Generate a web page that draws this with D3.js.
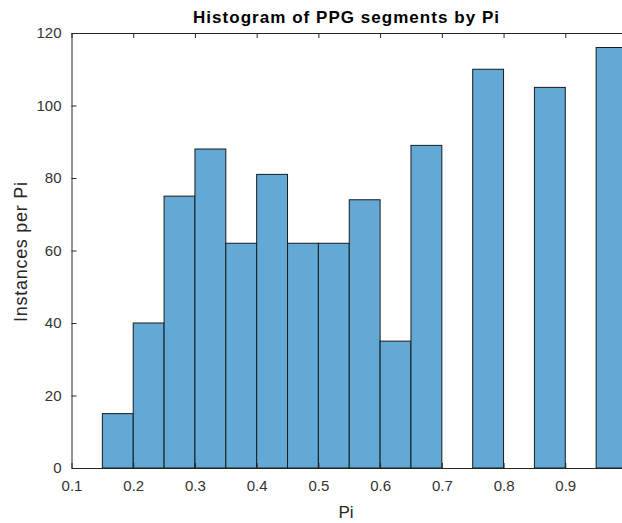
<!DOCTYPE html>
<html>
<head>
<meta charset="utf-8">
<script src="https://cdn.jsdelivr.net/npm/d3@7"></script>
<style>
  body { margin: 0; background: #fff; }
  svg { display: block; font-family: "Liberation Sans", Arial, sans-serif; }
</style>
</head>
<body>
<svg id="chart" width="622" height="523"></svg>
<script>
// bin edges (width 0.05) and counts per bin
const binStarts = [0.15, 0.2, 0.25, 0.3, 0.35, 0.4, 0.45, 0.5, 0.55, 0.6, 0.65, 0.7, 0.75, 0.8, 0.85, 0.9, 0.95];
const counts = [15, 40, 75, 88, 62, 81, 62, 62, 74, 35, 89, 0, 110, 0, 105, 0, 116];
const binWidth = 0.05;
const xTicks = [0.1, 0.2, 0.3, 0.4, 0.5, 0.6, 0.7, 0.8, 0.9, 1];
const yTicks = [0, 20, 40, 60, 80, 100, 120];

const margin = { left: 71.5, right: 627, top: 33, bottom: 468 };
const axisColor = '#262626';

const svg = d3.select('svg#chart');

const xScale = d3.scaleLinear().domain([0.1, 1]).range([margin.left, margin.right]);
const yScale = d3.scaleLinear().domain([0, 120]).range([margin.bottom, margin.top]);

const bins = binStarts.map((s, i) => ({ x0: s, x1: s + binWidth, n: counts[i] }));

// bars
svg.append('g')
  .selectAll('rect')
  .data(bins.filter(d => d.n > 0))
  .enter().append('rect')
  .attr('x', d => xScale(d.x0))
  .attr('y', d => yScale(d.n))
  .attr('width', d => xScale(d.x1) - xScale(d.x0))
  .attr('height', d => yScale(0) - yScale(d.n))
  .attr('fill', '#62a9d6')
  .attr('stroke', '#1a1a1a')
  .attr('stroke-width', 1);

// axes, ticks pointing inward like matlab
const fmt = d => d === 1 ? '1' : d3.format('.1f')(d);

svg.append('g')
  .attr('transform', 'translate(0,' + margin.bottom + ')')
  .call(d3.axisBottom(xScale).tickValues(xTicks).tickFormat(fmt).tickSizeInner(-5).tickSizeOuter(0).tickPadding(12));
svg.append('g')
  .attr('transform', 'translate(0,' + margin.top + ')')
  .call(d3.axisTop(xScale).tickValues(xTicks).tickFormat('').tickSizeInner(-5).tickSizeOuter(0));
svg.append('g')
  .attr('transform', 'translate(' + margin.left + ',0)')
  .call(d3.axisLeft(yScale).tickValues(yTicks).tickSizeInner(-5).tickSizeOuter(0).tickPadding(10));
svg.append('g')
  .attr('transform', 'translate(' + margin.right + ',0)')
  .call(d3.axisRight(yScale).tickValues(yTicks).tickFormat('').tickSizeInner(-5).tickSizeOuter(0));

svg.selectAll('g').attr('font-family', null);
svg.selectAll('.domain, .tick line').attr('stroke', axisColor);
svg.selectAll('.tick text').attr('fill', '#333').style('font-size', '15px');

// labels
svg.append('text')
  .attr('x', 346).attr('y', 23)
  .attr('text-anchor', 'middle')
  .attr('textLength', 306).attr('lengthAdjust', 'spacing')
  .style('font-size', '17px').style('font-weight', 'bold')
  .attr('fill', '#000')
  .text('Histogram of PPG segments by Pi');

svg.append('text')
  .attr('x', 346).attr('y', 518)
  .attr('text-anchor', 'middle')
  .style('font-size', '17px')
  .attr('fill', axisColor)
  .text('Pi');

svg.append('text')
  .attr('transform', 'translate(27,252) rotate(-90)')
  .attr('text-anchor', 'middle')
  .attr('textLength', 140).attr('lengthAdjust', 'spacing')
  .style('font-size', '18px')
  .attr('fill', axisColor)
  .text('Instances per Pi');
</script>
</body>
</html>
